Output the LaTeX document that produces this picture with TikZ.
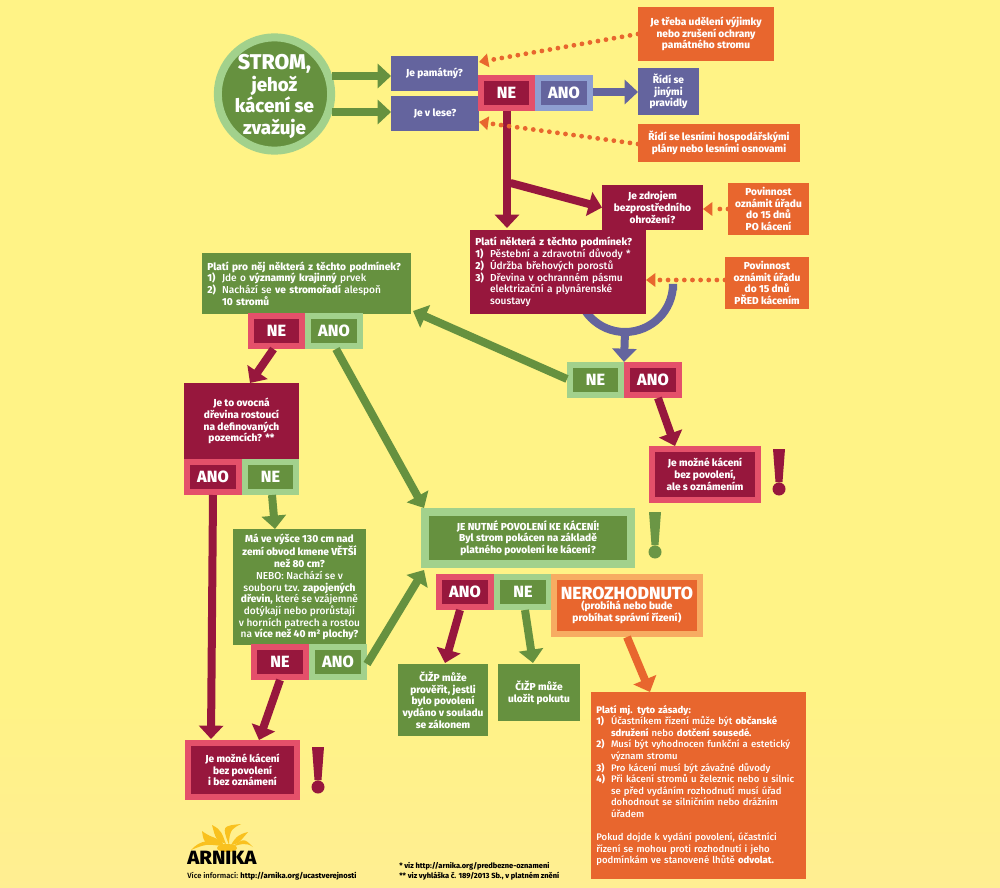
\documentclass[tikz,border=0pt]{standalone}
\usepackage{fontspec}
\usepackage{graphicx}
\setmainfont{Fira Sans Medium}[BoldFont={Fira Sans ExtraBold}]
\usetikzlibrary{arrows.meta,calc}
\definecolor{bgY}{HTML}{FFF386}
\definecolor{bgP}{HTML}{FFEE92}
\definecolor{grD}{HTML}{66913F}
\definecolor{grL}{HTML}{A2D18C}
\definecolor{mar}{HTML}{97173D}
\definecolor{pnk}{HTML}{E4506A}
\definecolor{pur}{HTML}{64649E}
\definecolor{blL}{HTML}{8E9FD1}
\definecolor{org}{HTML}{E8662E}
\definecolor{orL}{HTML}{F7AC62}
\definecolor{logoY}{HTML}{F9C11E}
\newcommand\txt{\fontsize{7.6}{8.8}\selectfont\bfseries}
\newcommand\lt[1]{{\mdseries #1}}
\newcommand\nm[1]{\makebox[11pt][l]{#1}}
\newcommand\ct{\hspace*{11pt}}
\tikzset{
  x=0.75pt,y=-0.75pt,
  plainbox/.style={inner sep=0pt,outer sep=0pt,text=white,align=center,font=\txt},
  listbox/.style={plainbox,align=left,inner xsep=4pt},
  framed/.style={plainbox,line width=4.5pt,outer sep=2.25pt},
  conn/.style={line width=6pt,-{Triangle[width=18pt,length=10pt]}},
  dots/.style={org,line width=3.6pt,line cap=round,dash pattern=on 0pt off 6.1pt,-{Triangle[width=10pt,length=7pt]}},
}
% plain box given by its corners
\newcommand\bx[7]{\node[plainbox,fill=#6,minimum width={(#4-#2)*0.75pt},minimum height={(#5-#3)*0.75pt}] (#1) at ({(#2+#4)/2},{(#3+#5)/2}) {#7};}
% left-aligned box
\newcommand\lbx[7]{\node[listbox,fill=#6,text width={(#4-#2)*0.75pt-8pt},minimum height={(#5-#3)*0.75pt}] (#1) at ({(#2+#4)/2},{(#3+#5)/2}) {#7};}
% framed box given by the outer corners: inner, frame colours
\newcommand\fb[8]{\node[framed,fill=#6,draw=#7,minimum width={(#4-#2-6)*0.75pt},minimum height={(#5-#3-6)*0.75pt}] (#1) at ({(#2+#4)/2},{(#3+#5)/2}) {#8};}
\newcommand\bt[1]{{\fontsize{12.2}{12}\selectfont\bfseries #1}}
\newcommand\conn[5]{\draw[conn,#1] ([shift={(#3)}]#2) -- ([shift={(#5)}]#4);}
\newcommand\dotted[4]{\draw[dots] ([shift={(#2)}]#1) -- ([shift={(#4)}]#3);}
\newcommand\excl[3]{\fill[#3] (#1-6,#2) -- (#1+6,#2) -- (#1+3.5,#2+33) -- (#1-3.5,#2+33) -- cycle (#1,#2+40) circle[radius=6.5];}
\newcommand\petal[5]{\fill[logoY] (#1) .. controls (#2) and (#3) .. (#4) .. controls (#5) .. cycle;}
\begin{document}
\begin{tikzpicture}
\useasboundingbox (0,0) rectangle (1000,888);
\fill[bgY] (0,0) rectangle (1000,700);
\shade[top color=bgY,bottom color=bgP,shading angle=0] (0,700) rectangle (1000,888);

% U-shaped connector behind the condition box
\coordinate (arcR) at (673,290);
\coordinate (arcB) at (625,332);
\draw[pur,line width=6pt] (arcR) -- (673,284) arc[start angle=0,end angle=180,radius=48];

% start
\node[plainbox,circle,fill=grD,draw=grL,line width=6pt,outer sep=3pt,inner sep=-8pt,minimum size=85pt,font=\fontsize{14}{16.3}\selectfont\bfseries] (c) at (274.5,94)
 {\rule{0pt}{15pt}{\fontsize{16}{16.3}\selectfont\bfseries STROM,}\\jehož\\kácení se\\zvažuje};

\bx{pam}{391}{56}{478}{91}{pur}{Je památný?}
\bx{les}{391}{96}{479}{131}{pur}{Je v lese?}
\fb{neA}{478}{75}{535}{111}{mar}{pnk}{\bt{NE}}
\fb{anoA}{535}{75}{593}{111}{pur}{blL}{\bt{ANO}}
\bx{ora1}{638}{7}{774}{61}{org}{Je třeba udělení výjimky\\nebo zrušení ochrany\\památného stromu}
\bx{rid}{638}{68}{699}{115}{pur}{Řídí se\\jinými\\pravidly}
\bx{ora2}{638}{124}{800}{162}{org}{Řídí se lesními hospodářskými\\plány nebo lesními osnovami}

\bx{zdr}{602}{185}{703}{230}{mar}{Je zdrojem\\bezprostředního\\ohrožení?}
\lbx{pl}{470}{230}{646}{314}{mar}{Platí některá z těchto podmínek?\\\nm{1)}\lt{Pěstební a zdravotní důvody *}\\\nm{2)}\lt{Údržba břehových porostů}\\\nm{3)}\lt{Dřevina v ochranném pásmu}\\\ct\lt{elektrizační a plynárenské}\\\ct\lt{soustavy}}
\bx{pov1}{728}{183}{809}{235}{org}{Povinnost\\oznámit úřadu\\do 15 dnů\\PO kácení}
\bx{pov2}{725}{257}{809}{309}{org}{Povinnost\\oznámit úřadu\\do 15 dnů\\PŘED kácením}

\fb{neB}{567}{362}{624}{398}{grD}{grL}{\bt{NE}}
\fb{anoB}{624}{362}{682}{398}{mar}{pnk}{\bt{ANO}}
\fb{moz1}{649}{446}{761}{503}{mar}{pnk}{Je možné kácení\\bez povolení,\\ale s oznámením}
\excl{779}{449}{mar}

\lbx{pn}{202}{253}{411}{314}{grD}{Platí pro něj některá z těchto podmínek?\\\nm{1)}\lt{Jde o }významný krajinný\lt{ prvek}\\\nm{2)}\lt{Nachází se }ve stromořadí\lt{ alespoň}\\\ct 10 stromů}
\fb{neC}{248}{313}{305}{349}{mar}{pnk}{\bt{NE}}
\fb{anoC}{305}{313}{363}{349}{grD}{grL}{\bt{ANO}}

\bx{ovo}{184}{383}{299}{459}{mar}{Je to ovocná\\dřevina rostoucí\\na definovaných\\pozemcích? **}
\fb{anoD}{184}{459}{242}{495}{mar}{pnk}{\bt{ANO}}
\fb{neD}{242}{459}{299}{495}{grD}{grL}{\bt{NE}}

\bx{ma}{233}{529}{366}{645}{grD}{Má ve výšce 130 cm nad\\zemí obvod kmene VĚTŠÍ\\než 80 cm?\\\lt{NEBO: Nachází se v}\\\lt{souboru tzv. }zapojených\\dřevin,\lt{ které se vzájemně}\\\lt{dotýkají nebo prorůstají}\\\lt{v horních patrech a rostou}\\\lt{na }více než 40 m² plochy?}
\fb{neE}{251}{644}{309}{680}{mar}{pnk}{\bt{NE}}
\fb{anoE}{309}{644}{367}{680}{grD}{grL}{\bt{ANO}}

\fb{moz2}{185}{740}{300}{800}{mar}{pnk}{Je možné kácení\\bez povolení\\i bez oznámení}
\excl{318}{747}{mar}

\node[plainbox,fill=grD,draw=grL,line width=6pt,outer sep=3pt,minimum width=154.5pt,minimum height=39pt] (nut) at (528,538)
 {JE NUTNÉ POVOLENÍ KE KÁCENÍ!\\Byl strom pokácen na základě\\platného povolení ke kácení?};
\excl{655}{512}{grD!92!grL}
\fb{anoF}{436}{574}{494}{610}{mar}{pnk}{\bt{ANO}}
\fb{neF}{494}{574}{552}{610}{grD}{grL}{\bt{NE}}
\fb{nero}{551}{574}{703}{637}{org}{orL}{{\fontsize{13.2}{13}\selectfont\bfseries NEROZHODNUTO}\\[-1pt](probíhá nebo bude\\probíhat správní řízení)}
\bx{cz1}{398}{664}{488}{736}{grD}{ČIŽP může\\prověřit, jestli\\bylo povolení\\vydáno v souladu\\se zákonem}
\bx{cz2}{498}{664}{580}{721}{grD}{ČIŽP může\\uložit pokutu}
\lbx{mj}{591}{692}{806}{879}{org,font=\fontsize{7.15}{8.7}\selectfont\bfseries}{Platí mj. tyto zásady:\\\nm{1)}\lt{Účastníkem řízení může být }občanské\\\ct sdružení\lt{ nebo }dotčení sousedé.\\\nm{2)}\lt{Musí být vyhodnocen funkční a estetický}\\\ct\lt{význam stromu}\\\nm{3)}\lt{Pro kácení musí být závažné důvody}\\\nm{4)}\lt{Při kácení stromů u železnic nebo u silnic}\\\ct\lt{se před vydáním rozhodnutí musí úřad}\\\ct\lt{dohodnout se silničním nebo drážním}\\\ct\lt{úřadem}\\[8.7pt]\lt{Pokud dojde k vydání povolení, účastníci}\\\lt{řízení se mohou proti rozhodnutí i jeho}\\\lt{podmínkám ve stanovené lhůtě }odvolat.}

% connectors
\conn{grD}{c.east}{-3,-18}{pam.west}{0,2.5}
\conn{grD}{c.east}{-3,18}{les.west}{0,-1.5}
\conn{pur}{anoA.east}{0,-1}{rid.west}{0,0.5}
\conn{mar}{neA.south}{0.5,0}{pl.north}{-51,-2}
\conn{mar}{neA.south}{4,72}{zdr.west}{0,0}
\conn{pur}{arcB}{0,0}{neB.north east}{0,0}
\dotted{ora1.west}{0,0}{pam.east}{1,-11.5}
\dotted{ora2.west}{0,1}{les.east}{0,8.5}
\dotted{pov1.west}{0,0}{zdr.east}{0,1.5}
\dotted{pov2.west}{0,-3}{pl.east}{0,8}
\conn{grD}{neB.west}{0,-1}{pn.east}{2,27.5}
\conn{mar}{anoB.south}{5,0}{moz1.north}{-30,0}
\conn{mar}{neC.south}{-3,0}{ovo.north}{8.5,0}
\conn{grD}{anoC.south}{2,0}{nut.north west}{3,0}
\conn{mar}{anoD.south}{0,0}{moz2.north}{-31.5,-1}
\conn{grD}{neD.south}{1.5,0}{ma.north}{-24.5,0}
\conn{mar}{neE.south}{0,0}{moz2.north}{16.5,0}
\conn{grD}{anoE.east}{0,2}{nut.south west}{3,2}
\conn{mar}{anoF.south}{-5,0}{cz1.north}{2,-1}
\conn{grD}{neF.south}{2,0}{cz2.north}{-6,-1}
\conn{org}{nero.south}{0,0}{mj.north}{-48.5,0}

% logo
\petal{222,846}{212,838}{200,840}{191,850}{206,844}
\petal{224,845}{218,836}{214,840}{202,831}{204,844}
\petal{226,844}{222,834}{222,830}{212,825}{216,840}
\petal{229,845}{229,828}{234,828}{241,824}{222,826}
\petal{231,845}{236,836}{240,834}{248,832}{238,844}
\petal{232,847}{240,844}{246,842}{253,847}{244,838}
\fill[logoY] (227,848) ellipse[x radius=10,y radius=4];
\node[inner sep=0pt,anchor=north west] (arn) at (187,851) {\resizebox{52pt}{10pt}{\bfseries ARNIKA}};
\node[inner sep=0pt,anchor=west,font=\fontsize{5.7}{6}\selectfont\bfseries] (vic) at (187,876) {\lt{Více informací:} http://arnika.org/ucastverejnosti};
\node[inner sep=0pt,anchor=west,align=left,font=\fontsize{5.6}{7.4}\selectfont\bfseries] (fn) at (399,871) {* viz http://arnika.org/predbezne-oznameni\\** viz vyhláška č. 189/2013 Sb., v platném znění};
\end{tikzpicture}
\end{document}
